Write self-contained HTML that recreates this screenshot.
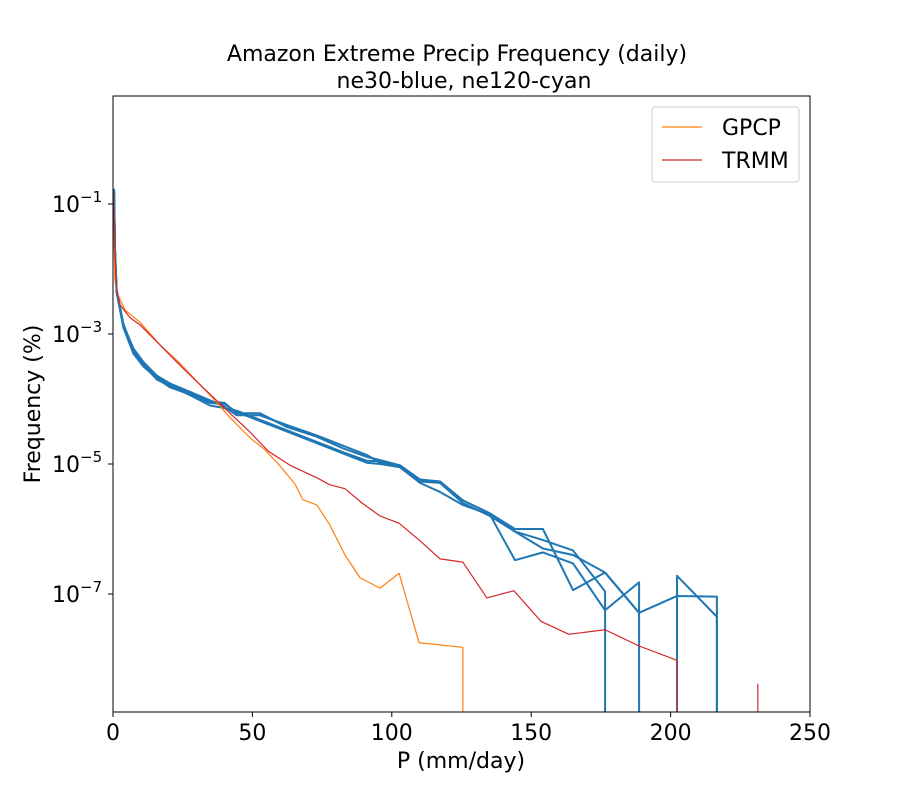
<!DOCTYPE html>
<html><head><meta charset="utf-8"><style>
html,body{margin:0;padding:0;background:#fff;overflow:hidden;width:900px;height:800px;}
svg{display:block;font-family:"DejaVu Sans","Liberation Sans",sans-serif;}
</style></head><body>
<svg id="chart" width="900" height="800">
<rect width="900" height="800" fill="#fff"/>
<text x="457" y="61" font-size="22" text-anchor="middle">Amazon Extreme Precip Frequency (daily)</text>
<text x="464" y="88" font-size="22" text-anchor="middle">ne30-blue, ne120-cyan</text>
<defs><clipPath id="pc"><rect x="113" y="96" width="697" height="616"/></clipPath></defs>
<g id="series" clip-path="url(#pc)"></g>
<rect x="113" y="96" width="697" height="616" fill="none" stroke="#000" stroke-width="1"/>
<g id="axes"></g>
<text x="461" y="768" font-size="22" text-anchor="middle">P (mm/day)</text>
<text transform="translate(40,404) rotate(-90)" font-size="22" text-anchor="middle">Frequency (%)</text>
<g>
<rect x="652" y="107" width="147" height="75" rx="3" fill="#fff" stroke="#ccc"/>
<line x1="662" y1="127" x2="702" y2="127" stroke="#ff7f0e" stroke-width="1.2"/>
<text x="722" y="135" font-size="22">GPCP</text>
<line x1="662" y1="160" x2="702" y2="160" stroke="#d62728" stroke-width="1.2"/>
<text x="722" y="168" font-size="22">TRMM</text>
</g>
</svg>
<script>
const xTicks=[0,50,100,150,200,250];
const yTicks=[-1,-3,-5,-7];
const blueHeadP=[0,0.4,0.7,1.3,3.7,7.3,10.9,15.7,20.4,27.6,34.8,40,44.4,52.7,62.3,73.1,82.6,91];
const blueHeadA=[-0.9,-0.78,-1.66,-2.32,-2.84,-3.25,-3.45,-3.66,-3.78,-3.91,-4.04,-4.06,-4.22,-4.22,-4.43,-4.58,-4.76,-4.89];
const blueHeadB=[-0.9,-0.8,-1.7,-2.36,-2.88,-3.28,-3.48,-3.7,-3.8,-3.94,-4.1,-4.14,-4.18,-4.32,-4.48,-4.66,-4.82,-4.95];
const blueHeadC=[-0.9,-0.79,-1.68,-2.34,-2.86,-3.22,-3.43,-3.64,-3.76,-3.89,-4.02,-4.12,-4.25,-4.25,-4.4,-4.56,-4.72,-4.86];
const blueHeadD=[-0.9,-0.81,-1.69,-2.35,-2.9,-3.3,-3.5,-3.68,-3.82,-3.93,-4.06,-4.08,-4.2,-4.34,-4.5,-4.68,-4.84,-4.98];
const tailP1=[95.8,102.9,110.1,117.3,125.5,135.2,144.2,154.2,165,176.5,176.5];
const tailV1=[-4.94,-5.02,-5.24,-5.27,-5.56,-5.76,-6.04,-6.17,-6.33,-6.96,-9];
const tailP2=[95.8,102.9,110.1,117.3,125.5,135.2,144.2,154.2,165,176.5,188.7,188.7];
const tailV2=[-4.96,-5.05,-5.29,-5.43,-5.63,-5.78,-6.48,-6.36,-6.53,-7.25,-6.82,-9];
const tailP3=[95.8,102.9,110.1,117.3,125.5,135.2,144.2,154.2,165,176.5,188.7,202.3,216.6,216.6];
const tailV3=[-4.98,-5.02,-5.24,-5.27,-5.56,-5.76,-6.0,-6.0,-6.94,-6.67,-7.29,-7.03,-7.04,-9];
const tailP4=[95.8,102.9,110.1,117.3,125.5,135.2,144.2,154.2,165,176.5,188.7,null,202.3,202.3,216.6,216.6];
const tailV4=[-5.0,-5.05,-5.27,-5.29,-5.6,-5.8,-6.04,-6.3,-6.4,-6.67,-7.29,null,-9,-6.72,-7.35,-9];
const gpcpP=[0,0.7,1.8,4.3,9.7,16.9,24,31.2,36.6,42,49.2,54.5,59.9,65.3,68.1,73.1,77.8,83.2,88.6,95.8,102.6,109.8,125.5,125.5];
const gpcpV=[-0.78,-2.17,-2.4,-2.63,-2.82,-3.17,-3.45,-3.78,-4.02,-4.29,-4.6,-4.78,-5.03,-5.31,-5.55,-5.63,-5.94,-6.4,-6.75,-6.91,-6.68,-7.75,-7.82,-9];
const trmmP=[0,1.1,2.5,6.1,9.7,16.9,24,31.2,42,49.2,55.6,63.5,73.5,77.8,83.2,89.3,95.8,102.6,110.1,117.3,125.5,134.1,143.8,153.5,163.5,176.5,188.7,202.3,202.3,null,231.3,231.3];
const trmmV=[-0.78,-2.25,-2.55,-2.75,-2.86,-3.17,-3.48,-3.78,-4.22,-4.51,-4.8,-5.02,-5.22,-5.32,-5.38,-5.6,-5.8,-5.91,-6.18,-6.46,-6.51,-7.06,-6.95,-7.42,-7.62,-7.55,-7.8,-8.02,-9,null,-9,-8.38];

const X=p=>113+p*(697/250);
const Y=l=>204-(l+1)*65;
const NS="http://www.w3.org/2000/svg";
const g=document.getElementById('series');
function path(ps,vs,color,w,name){
  let d="",pen=false;
  for(let i=0;i<ps.length;i++){
    if(ps[i]===null){pen=false;continue;}
    d+=(pen?"L":"M")+X(ps[i]).toFixed(2)+","+Y(vs[i]).toFixed(2);pen=true;
  }
  const el=document.createElementNS(NS,'path');
  el.setAttribute('d',d);el.setAttribute('fill','none');el.setAttribute('stroke',color);
  el.setAttribute('stroke-width',w);el.setAttribute('stroke-linejoin','round');
  
  
  g.appendChild(el);
}
const heads=[blueHeadA,blueHeadB,blueHeadC,blueHeadD];
const tps=[tailP1,tailP2,tailP3,tailP4],tvs=[tailV1,tailV2,tailV3,tailV4];
for(let k=0;k<4;k++){
  path(blueHeadP.concat(tps[k]),heads[k].concat(tvs[k]),'#1f77b4',2,'model-line-'+(k+1));
}
path(gpcpP,gpcpV,'#ff7f0e',1.2,'gpcp-line');
path(trmmP,trmmV,'#d62728',1.2,'trmm-line');

const ax=document.getElementById('axes');
xTicks.forEach(t=>{
  const l=document.createElementNS(NS,'line');
  l.setAttribute('x1',X(t));l.setAttribute('x2',X(t));l.setAttribute('y1',712);l.setAttribute('y2',717);l.setAttribute('stroke','#000');
  
  
  ax.appendChild(l);
  const tx=document.createElementNS(NS,'text');
  tx.setAttribute('x',X(t));tx.setAttribute('y',740);tx.setAttribute('font-size','22');tx.setAttribute('text-anchor','middle');
  tx.textContent=t;
  
  
  ax.appendChild(tx);
});
yTicks.forEach(t=>{
  const l=document.createElementNS(NS,'line');
  l.setAttribute('x1',108);l.setAttribute('x2',113);l.setAttribute('y1',Y(t));l.setAttribute('y2',Y(t));l.setAttribute('stroke','#000');
  
  
  ax.appendChild(l);
  const tx=document.createElementNS(NS,'text');
  tx.setAttribute('x',52);tx.setAttribute('y',Y(t)+8);tx.setAttribute('font-size','22');
  tx.innerHTML='10<tspan dy="-10" font-size="15">\u2212'+(-t)+'</tspan>';
  
  
  ax.appendChild(tx);
});
</script>
</body></html>
